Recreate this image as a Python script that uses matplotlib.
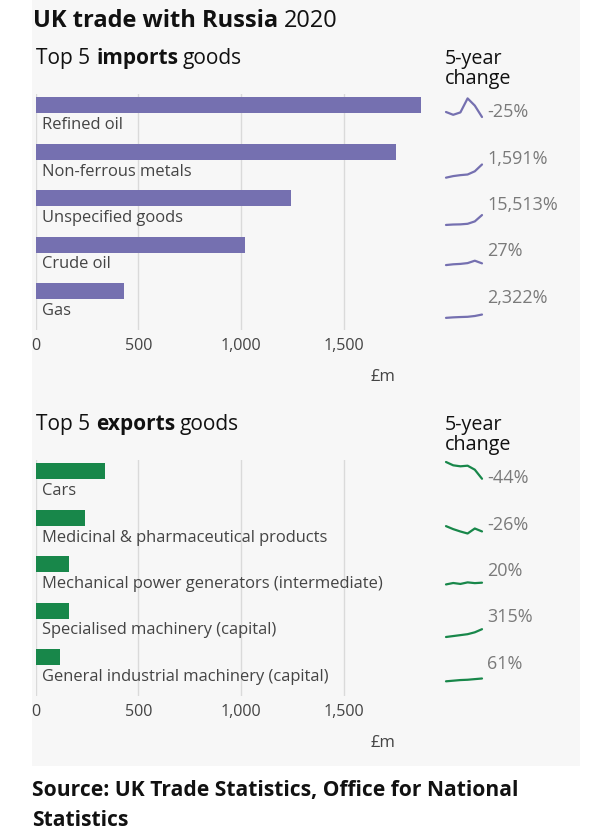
import matplotlib
matplotlib.use('Agg')
import matplotlib.pyplot as plt

plt.rcParams['font.family'] = ['Open Sans', 'DejaVu Sans']

# 2020 values, £m
import_goods = ['Refined oil', 'Non-ferrous metals', 'Unspecified goods', 'Crude oil', 'Gas']
import_values = [1875, 1752, 1242, 1018, 431]
import_change = ['-25%', '1,591%', '15,513%', '27%', '2,322%']
# 2015-2020 trend, £m
import_trend = [
    [2500, 2150, 2450, 4200, 3300, 1875],
    [104, 300, 420, 500, 900, 1752],
    [8, 60, 80, 150, 450, 1242],
    [802, 900, 950, 1050, 1350, 1018],
    [18, 80, 120, 150, 250, 431],
]

export_goods = ['Cars', 'Medicinal & pharmaceutical products',
                'Mechanical power generators (intermediate)',
                'Specialised machinery (capital)',
                'General industrial machinery (capital)']
export_values = [340, 241, 165, 165, 120]
export_change = ['-44%', '-26%', '20%', '315%', '61%']
export_trend = [
    [608, 555, 539, 549, 485, 340],
    [326, 278, 240, 208, 288, 241],
    [137, 160, 145, 170, 158, 165],
    [40, 55, 70, 85, 115, 165],
    [75, 85, 95, 100, 110, 120],
]

ticks = [0, 500, 1000, 1500]
tick_labels = ['0', '500', '1,000', '1,500']

W, H = 590, 836
PURPLE = '#7570b0'
GREEN = '#18874a'
TXT = '#444444'
DARK = '#111111'

fig = plt.figure(figsize=(W / 100, H / 100), dpi=100)
fig.patch.set_facecolor('white')


def fx(x):
    return x / W


def fy(y):
    return 1 - y / H


# grey panel
bg = fig.add_axes([fx(32), fy(766), fx(580) - fx(32), fy(0) - fy(766)])
bg.set_facecolor('#f7f7f7')
bg.set_xticks([])
bg.set_yticks([])
for s in bg.spines.values():
    s.set_visible(False)
bg.set_zorder(-10)

# title, bold + regular
fig.canvas.draw()
r = fig.canvas.get_renderer()
t1 = fig.text(fx(33), fy(27), 'UK trade with Russia', fontsize=17,
              fontweight='bold', va='baseline', color=DARK)
ext = t1.get_window_extent(r)
fig.text(ext.x1 / W + fx(6), fy(27), '2020', fontsize=17, va='baseline', color=DARK)


def section(top, goods, values, change, trend, color, word, scale, off):
    # subtitle
    yb = fy(top - 30)
    a = fig.text(fx(36.5), yb, 'Top 5 ', fontsize=15, va='baseline', color=DARK)
    e = a.get_window_extent(r)
    b = fig.text(e.x1 / W, yb, word, fontsize=15, fontweight='bold',
                 va='baseline', color=DARK)
    e = b.get_window_extent(r)
    fig.text(e.x1 / W + fx(5), yb, 'goods', fontsize=15, va='baseline', color=DARK)
    fig.text(fx(445), fy(top - 30), '5-year', fontsize=14.2, va='baseline', color=DARK)
    fig.text(fx(445), fy(top - 10), 'change', fontsize=14.2, va='baseline', color=DARK)

    # bars
    pitch = 46.5
    x0 = 35.5
    ppu = 0.2055
    xmax = 1900
    ax = fig.add_axes([fx(x0), fy(top + 236), xmax * ppu / W, 236 / H])
    ax.set_facecolor('none')
    ys = list(range(len(goods)))
    ax.barh(ys, values, height=16 / pitch, color=color, zorder=2)
    for i, g in enumerate(goods):
        ax.text(34, i + 0.43, g, fontsize=11.9, color=TXT, va='center', ha='left')
    ax.set_xlim(0, xmax)
    ax.set_ylim(4.84, -0.24)
    ax.set_xticks(ticks)
    ax.set_xticklabels(tick_labels, fontsize=11.6, color=TXT)
    ax.set_yticks([])
    ax.tick_params(axis='x', length=0, pad=6)
    ax.grid(axis='x', color='#dadada', linewidth=1, zorder=0)
    for s in ax.spines.values():
        s.set_visible(False)
    fig.text(fx(383), fy(top + 283), '£m', fontsize=12, color=TXT, ha='center', va='center')

    # sparklines
    for i in ys:
        rc = top + 11 + i * pitch
        hpx = 40
        sp = fig.add_axes([fx(446), fy(rc + off), 36 / W, hpx / H])
        sp.plot(range(len(trend[i])), trend[i], color=color, linewidth=1.6,
                clip_on=False, solid_capstyle='round', solid_joinstyle='round')
        sp.set_xlim(0, len(trend[i]) - 1)
        sp.set_ylim(0, hpx * scale)
        sp.axis('off')
        fig.text(fx(487), fy(rc + 7), change[i], fontsize=13, color='#7a7a7a',
                 va='center', ha='left')


section(94, import_goods, import_values, import_change, import_trend, PURPLE, 'imports', 125, 27)
section(460, export_goods, export_values, export_change, export_trend, GREEN, 'exports', 16, 29)

fig.text(fx(32), fy(796), 'Source: UK Trade Statistics, Office for National', fontsize=15.1,
         fontweight='bold', va='baseline', color=DARK)
fig.text(fx(32), fy(826), 'Statistics', fontsize=15.1, fontweight='bold', va='baseline',
         color=DARK)

fig.savefig('out.png', dpi=100, facecolor='white')
